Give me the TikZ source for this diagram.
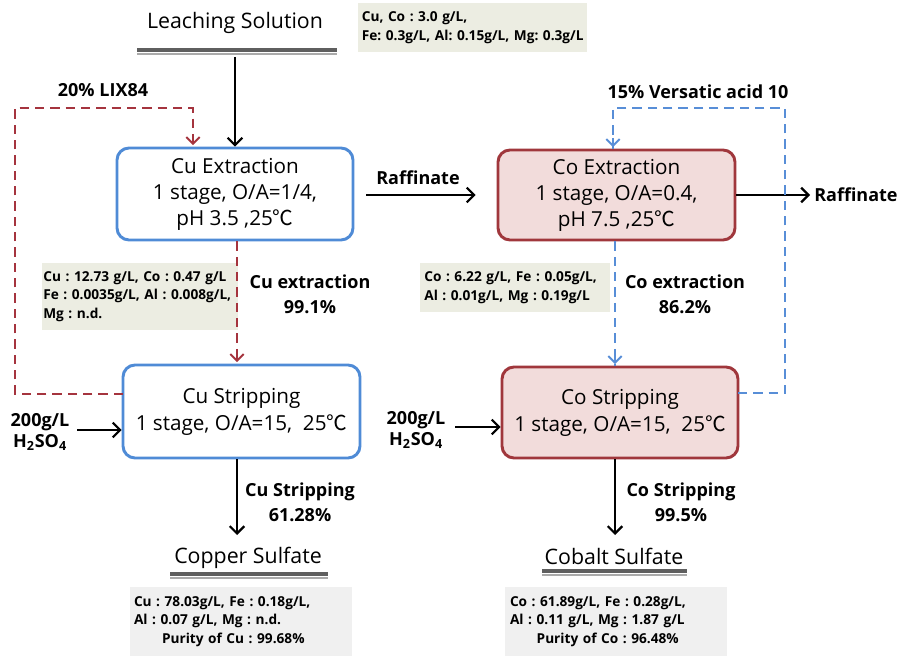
\documentclass[tikz,border=0pt]{standalone}
\usepackage{fontspec}
\setmainfont{Open Sans}
\newfontfamily\cjk{Noto Sans CJK KR}
\usetikzlibrary{arrows.meta}
\frenchspacing
\definecolor{boxblue}{RGB}{79,139,214}
\definecolor{boxred}{RGB}{160,55,60}
\definecolor{boxpink}{RGB}{242,220,219}
\definecolor{dashred}{RGB}{165,52,62}
\definecolor{dashblue}{RGB}{88,142,215}
\definecolor{infobeige}{RGB}{236,237,226}
\definecolor{infogray}{RGB}{240,240,240}
\definecolor{ulinedark}{RGB}{95,95,95}
\definecolor{ulinelight}{RGB}{170,170,170}
\newcommand{\degC}{{\cjk ℃}}
\newcommand{\hso}{H\textsubscript{2}SO\textsubscript{4}}
\tikzset{
  procbox/.style={draw, line width=2.2pt, rounded corners=9pt, align=center,
    font=\fontsize{15.5}{19.5}\selectfont, inner sep=0pt},
  bluebox/.style={procbox, draw=boxblue, fill=white},
  redbox/.style={procbox, draw=boxred, fill=boxpink},
  infobox/.style={fill=#1, align=left, inner sep=0pt,
    font=\frenchspacing\bfseries\fontsize{10.25}{14}\selectfont},
  blabel/.style={align=center, font=\bfseries\fontsize{13.5}{18.75}\selectfont, inner sep=0pt},
  title/.style={font=\fontsize{16}{19}\selectfont, inner sep=0pt},
  arr/.style={line width=1.5pt, -{Straight Barb[length=5.5pt,width=11pt,line width=1.6pt]}},
  rdash/.style={draw=dashred, line width=1.6pt, dash pattern=on 7pt off 4.5pt},
  bdash/.style={draw=dashblue, line width=1.6pt, dash pattern=on 7pt off 4.5pt},
  darr/.style={-{Straight Barb[length=5pt,width=10pt,line width=1.5pt]}},
}
\begin{document}
\begin{tikzpicture}[x=0.75pt,y=-0.75pt]
\useasboundingbox (0,0) rectangle (901,656);

% titles
\node[title] (ls) at (235,23) {Leaching Solution};
\draw[ulinedark, line width=2.4pt] (137,50) -- (337,50);
\draw[ulinelight, line width=1.5pt] (137,54) -- (337,54);
\coordinate (lsbot) at (235,57);

\node[title] (cus) at (248,558) {Copper Sulfate};
\draw[ulinedark, line width=2.4pt] (170,574) -- (328,574);
\draw[ulinelight, line width=1.5pt] (170,578) -- (328,578);

\node[title] (cos) at (614,556) {Cobalt Sulfate};
\draw[ulinedark, line width=2.4pt] (542,571) -- (687,571);
\draw[ulinelight, line width=1.5pt] (542,575) -- (687,575);

% info boxes
\node[infobox=infobeige, minimum width=171.75pt, minimum height=36.75pt, text width=166pt] (i0) at (472.5,27.5)
  {\mbox{Cu, Co : 3.0 g/L,}\\\mbox{Fe: 0.3g/L, Al: 0.15g/L, Mg: 0.3g/L}};
\node[infobox=infobeige, minimum width=147pt, minimum height=50.25pt, text width=145pt] (i1) at (140,296.5)
  {\mbox{Cu : 12.73 g/L, Co : 0.47 g/L}\\\mbox{Fe : 0.0035g/L, Al : 0.008g/L,}\\Mg : n.d.};
\node[infobox=infobeige, minimum width=142.5pt, minimum height=36.75pt, text width=136pt] (i2) at (515,287.5)
  {\mbox{Co : 6.22 g/L, Fe : 0.05g/L,}\\\mbox{Al : 0.01g/L, Mg : 0.19g/L}};
\node[infobox=infogray, minimum width=166.5pt, minimum height=51.75pt, text width=160.5pt] (i3) at (241,621.5)
  {\mbox{Cu : 78.03g/L, Fe : 0.18g/L,}\\\mbox{Al : 0.07 g/L, Mg : n.d.}\\\hspace*{21pt}\mbox{Purity of Cu : 99.68\%}};
\node[infobox=infogray, minimum width=166.5pt, minimum height=51.75pt, text width=159pt] (i4) at (616,621.5)
  {\mbox{Co : 61.89g/L, Fe : 0.28g/L,}\\\mbox{Al : 0.11 g/L, Mg : 1.87 g/L}\\\hspace*{20pt}\mbox{Purity of Co : 96.48\%}};

% process boxes
\node[bluebox, minimum width=177pt, minimum height=69pt] (cuext) at (235,194)
  {Cu Extraction\\1 stage, O/A=1/4,\\pH 3.5 ,25\degC};
\node[redbox, minimum width=177.75pt, minimum height=67.5pt] (coext) at (616.5,195)
  {Co Extraction\\1 stage, O/A=0.4,\\pH 7.5 ,25\degC};
\node[bluebox, minimum width=177.75pt, minimum height=69.75pt, font=\fontsize{15.5}{20.25}\selectfont] (custr) at (241.5,411.5)
  {Cu Stripping\\1 stage, O/A=15,\ \ 25\degC};
\node[redbox, minimum width=177pt, minimum height=68.25pt, font=\fontsize{15.5}{20.25}\selectfont] (costr) at (620,412.5)
  {Co Stripping\\1 stage, O/A=15,\ \ 25\degC};

% labels
\node[blabel] (lix) at (103,90) {20\% LIX84};
\node[blabel] (vers) at (698,92) {15\% Versatic acid 10};
\node[blabel] (raf1) at (418,178) {Raffinate};
\node[blabel, anchor=west] (raf2) at (814,195) {Raffinate};
\node[blabel] (cuexl) at (310,294.5) {Cu extraction\\99.1\%};
\node[blabel] (coexl) at (685,294.5) {Co extraction\\86.2\%};
\node[blabel] (custl) at (300,502.5) {Cu Stripping\\61.28\%};
\node[blabel] (costl) at (681,502.5) {Co Stripping\\99.5\%};
\node[blabel, font=\bfseries\fontsize{13.5}{15.75}\selectfont] (h1) at (40,432) {200g/L\\\hso};
\node[blabel, font=\bfseries\fontsize{13.5}{15.75}\selectfont] (h2) at (416,430) {200g/L\\\hso};

% coordinates
\coordinate (rA) at (123,394);
\coordinate (rL) at (15,394);
\coordinate (rT) at (15,108);
\coordinate (rB) at (193,108);
\coordinate (rc) at (237,0);
\coordinate (bA) at (738,393);
\coordinate (bR) at (785,393);
\coordinate (bT) at (785,108);
\coordinate (bB) at (613,108);
\coordinate (bc) at (615,0);
\coordinate (a1) at (77,430);
\coordinate (a2) at (455,427);
\coordinate (cuD) at (237,535);
\coordinate (coD) at (615,535);

% connectors
\draw[arr] (lsbot) -- (cuext.north);
\draw[arr] ([xshift=9pt]cuext.east |- 0,195) -- ([xshift=-15.75pt]coext.west |- 0,195);
\draw[arr] (coext.east) -- ([xshift=-3pt]raf2.west);
\draw[arr] (a1) -- (a1 -| custr.west);
\draw[arr] (a2) -- (a2 -| costr.west);
\draw[arr] (custr.south -| cuD) -- (cuD);
\draw[arr] (costr.south -| coD) -- (coD);

\draw[rdash] (rA) -- (rL) -- (rT) -- (rB) -- ([yshift=1pt]rB |- cuext.north);
\draw[dashred, line width=1.5pt, darr] ([yshift=8pt]rB |- cuext.north) -- ([yshift=1pt]rB |- cuext.north);
\draw[rdash] (cuext.south -| rc) -- (custr.north -| rc);
\draw[dashred, line width=1.5pt, darr] ([yshift=8pt]custr.north -| rc) -- ([yshift=1pt]custr.north -| rc);

\draw[bdash] (bA) -- (bR) -- (bT) -- (bB) -- (bB |- coext.north);
\draw[dashblue, line width=1.5pt, darr] ([yshift=8pt]bB |- coext.north) -- ([yshift=1pt]bB |- coext.north);
\draw[bdash] (coext.south -| bc) -- (costr.north -| bc);
\draw[dashblue, line width=1.5pt, darr] ([yshift=8pt]costr.north -| bc) -- ([yshift=1pt]costr.north -| bc);
\end{tikzpicture}
\end{document}
